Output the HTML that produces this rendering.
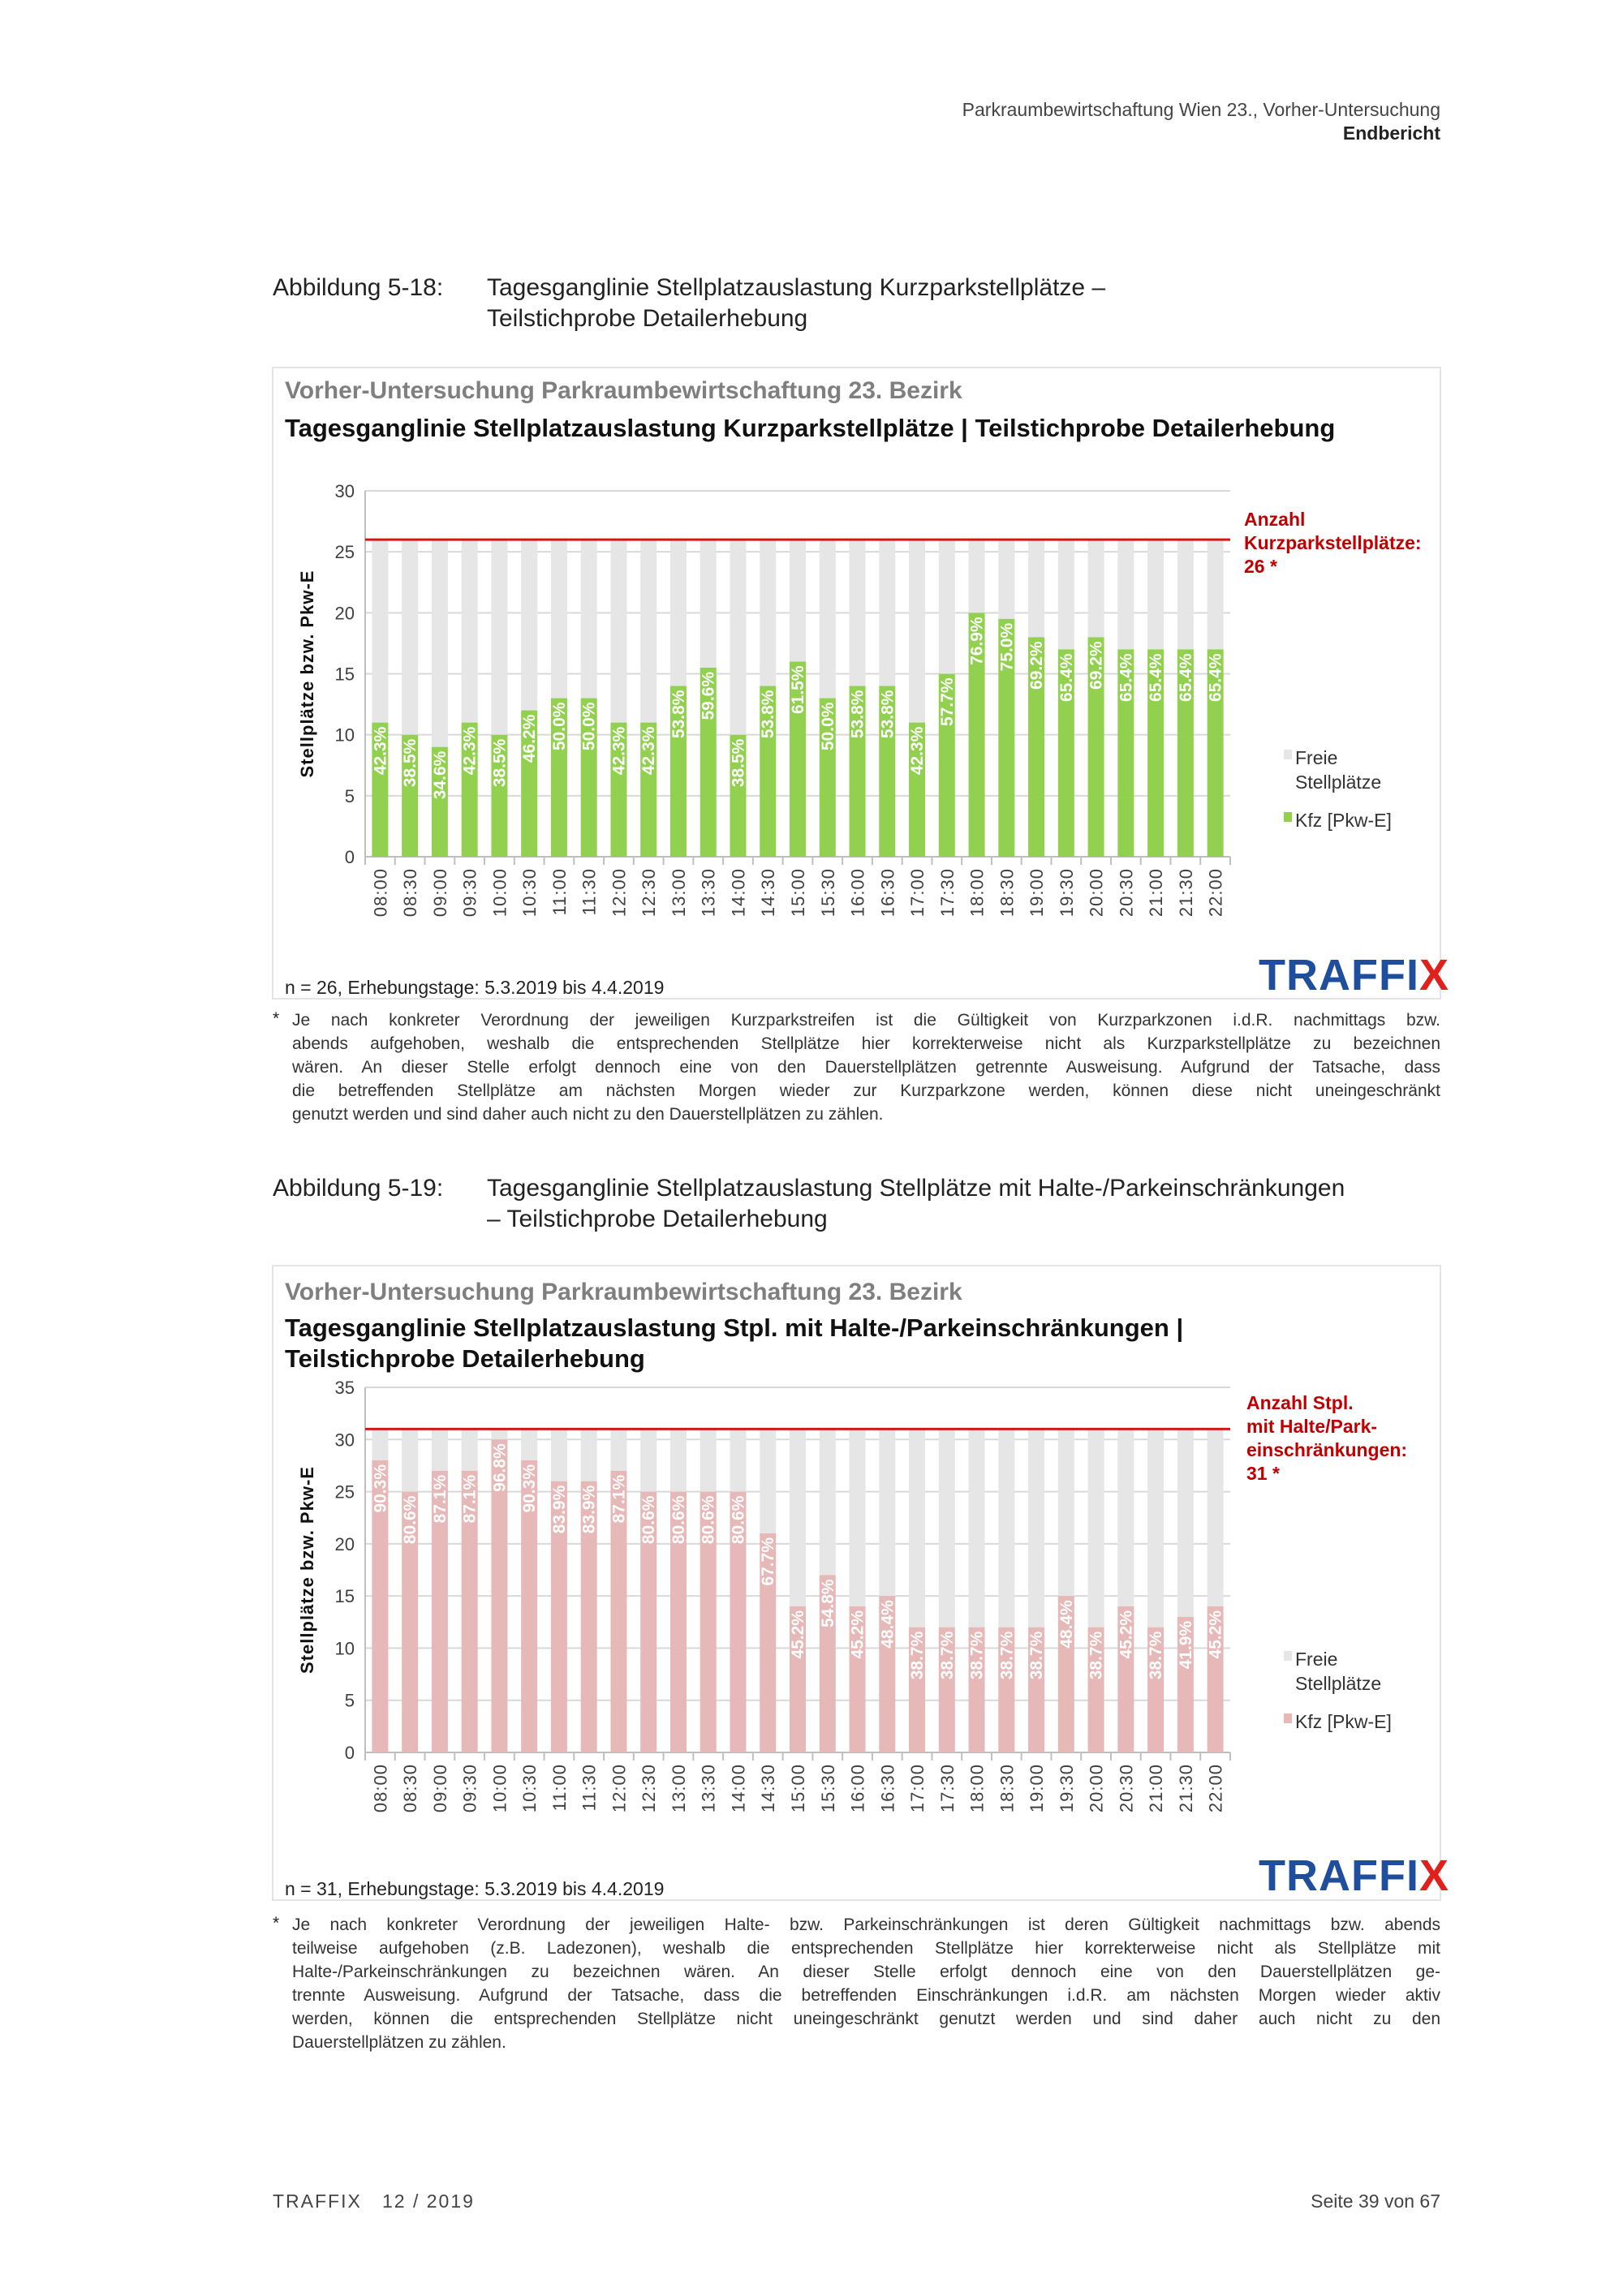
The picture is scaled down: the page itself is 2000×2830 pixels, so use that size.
<!DOCTYPE html>
<html><head><meta charset="utf-8">
<style>
body{margin:0;background:#fff;}
#page{position:relative;width:2000px;height:2830px;overflow:hidden;font-family:"Liberation Sans",sans-serif;color:#222;}
.t{position:absolute;white-space:nowrap;}
.fn{position:absolute;left:360px;width:1415px;font-size:21px;color:#333;}
.fn div{height:29px;line-height:29px;text-align:justify;text-align-last:justify;white-space:normal;}
.fn div.last{text-align-last:left;}
svg{position:absolute;left:0;top:0;}
</style></head><body>
<div id="page">
<div class="t" style="right:225px;top:122px;font-size:23px;color:#444;">Parkraumbewirtschaftung Wien 23., Vorher-Untersuchung</div>
<div class="t" style="right:225px;top:151px;font-size:23px;font-weight:bold;">Endbericht</div>

<div class="t" style="left:336px;top:336px;font-size:30px;line-height:38px;">Abbildung 5-18:</div>
<div class="t" style="left:600px;top:336px;font-size:30px;line-height:38px;">Tagesganglinie Stellplatzauslastung Kurzparkstellplätze –<br>Teilstichprobe Detailerhebung</div>

<div class="t" style="left:336px;top:1446px;font-size:30px;line-height:38px;">Abbildung 5-19:</div>
<div class="t" style="left:600px;top:1446px;font-size:30px;line-height:38px;">Tagesganglinie Stellplatzauslastung Stellplätze mit Halte-/Parkeinschränkungen<br>– Teilstichprobe Detailerhebung</div>

<svg id="svg" width="2000" height="2830"></svg>

<div class="t" style="left:336px;top:1244px;font-size:21px;">*</div>
<div class="fn" style="top:1243px;">
<div>Je nach konkreter Verordnung der jeweiligen Kurzparkstreifen ist die Gültigkeit von Kurzparkzonen i.d.R. nachmittags bzw.</div>
<div>abends aufgehoben, weshalb die entsprechenden Stellplätze hier korrekterweise nicht als Kurzparkstellplätze zu bezeichnen</div>
<div>wären. An dieser Stelle erfolgt dennoch eine von den Dauerstellplätzen getrennte Ausweisung. Aufgrund der Tatsache, dass</div>
<div>die betreffenden Stellplätze am nächsten Morgen wieder zur Kurzparkzone werden, können diese nicht uneingeschränkt</div>
<div class="last">genutzt werden und sind daher auch nicht zu den Dauerstellplätzen zu zählen.</div>
</div>
<div class="t" style="left:336px;top:2359px;font-size:21px;">*</div>
<div class="fn" style="top:2358px;">
<div>Je nach konkreter Verordnung der jeweiligen Halte- bzw. Parkeinschränkungen ist deren Gültigkeit nachmittags bzw. abends</div>
<div>teilweise aufgehoben (z.B. Ladezonen), weshalb die entsprechenden Stellplätze hier korrekterweise nicht als Stellplätze mit</div>
<div>Halte-/Parkeinschränkungen zu bezeichnen wären. An dieser Stelle erfolgt dennoch eine von den Dauerstellplätzen ge-</div>
<div>trennte Ausweisung. Aufgrund der Tatsache, dass die betreffenden Einschränkungen i.d.R. am nächsten Morgen wieder aktiv</div>
<div>werden, können die entsprechenden Stellplätze nicht uneingeschränkt genutzt werden und sind daher auch nicht zu den</div>
<div class="last">Dauerstellplätzen zu zählen.</div>
</div>

<div class="t" style="left:336px;top:2700px;font-size:23px;color:#444;letter-spacing:2px;">TRAFFIX&nbsp;&nbsp;&nbsp;12 / 2019</div>
<div class="t" style="right:225px;top:2700px;font-size:23px;color:#444;">Seite 39 von 67</div>
</div>
<script>
const categories = ["08:00","08:30","09:00","09:30","10:00","10:30","11:00","11:30","12:00","12:30","13:00","13:30","14:00","14:30","15:00","15:30","16:00","16:30","17:00","17:30","18:00","18:30","19:00","19:30","20:00","20:30","21:00","21:30","22:00"];
const kfz1 = [11,10,9,11,10,12,13,13,11,11,14,15.5,10,14,16,13,14,14,11,15,20,19.5,18,17,18,17,17,17,17];
const pct1 = ["42.3%","38.5%","34.6%","42.3%","38.5%","46.2%","50.0%","50.0%","42.3%","42.3%","53.8%","59.6%","38.5%","53.8%","61.5%","50.0%","53.8%","53.8%","42.3%","57.7%","76.9%","75.0%","69.2%","65.4%","69.2%","65.4%","65.4%","65.4%","65.4%"];
const capacity1 = 26;
const ticks1 = [0,5,10,15,20,25,30];
const kfz2 = [28,25,27,27,30,28,26,26,27,25,25,25,25,21,14,17,14,15,12,12,12,12,12,15,12,14,12,13,14];
const pct2 = ["90.3%","80.6%","87.1%","87.1%","96.8%","90.3%","83.9%","83.9%","87.1%","80.6%","80.6%","80.6%","80.6%","67.7%","45.2%","54.8%","45.2%","48.4%","38.7%","38.7%","38.7%","38.7%","38.7%","48.4%","38.7%","45.2%","38.7%","41.9%","45.2%"];
const capacity2 = 31;
const ticks2 = [0,5,10,15,20,25,30,35];

const NS="http://www.w3.org/2000/svg";
const svg=document.getElementById('svg');
function mk(tag,attrs,parent,text){const e=document.createElementNS(NS,tag);for(const k in attrs)e.setAttribute(k,attrs[k]);if(text!==undefined)e.textContent=text;(parent||svg).appendChild(e);return e;}

function chart(o){
  const g=mk('g',{});
  
  
  const box=mk('rect',{x:336,y:o.boxTop,width:1439,height:o.boxH,fill:'#fff',stroke:'#e4e4e4','stroke-width':2},g);
  
  
  const st=mk('text',{x:351,y:o.subY,'font-size':30,'font-weight':'bold',fill:'#7f7f7f'},g,'Vorher-Untersuchung Parkraumbewirtschaftung 23. Bezirk');
  
  
  o.titles.forEach((t,i)=>{
    const tt=mk('text',{x:351,y:o.titleY+i*38,'font-size':31,'font-weight':'bold',fill:'#111'},g,t);
    
    
  });
  const x0=450,x1=1516,y0=o.y0,ymax=o.ticks[o.ticks.length-1];
  const ys=v=>y0-(v/ymax)*(y0-o.yTop);
  const n=categories.length, slot=(x1-x0)/n, bw=20;
  o.ticks.forEach(t=>{
    const gl=mk('line',{x1:x0,x2:x1,y1:ys(t),y2:ys(t),stroke:t===0?'#bfbfbf':'#d9d9d9','stroke-width':2},g);
    
    
    const tl=mk('text',{x:437,y:ys(t)+8,'font-size':22,fill:'#404040','text-anchor':'end'},g,String(t));
    
    
  });
  mk('line',{x1:x0,x2:x0,y1:o.yTop,y2:y0,stroke:'#bfbfbf','stroke-width':2},g);
  for(let i=0;i<=n;i++){
    mk('line',{x1:x0+i*slot,x2:x0+i*slot,y1:y0,y2:y0+10,stroke:'#bfbfbf','stroke-width':2},g);
  }
  categories.forEach((c,i)=>{
    const cx=x0+(i+0.5)*slot;
    const fr=mk('rect',{x:cx-bw/2,y:ys(o.cap),width:bw,height:ys(o.vals[i])-ys(o.cap),fill:'#e6e6e6'},g);
    
    
    const b=mk('rect',{x:cx-bw/2,y:ys(o.vals[i]),width:bw,height:y0-ys(o.vals[i]),fill:o.color},g);
    
    
    const top=ys(o.vals[i])+5;
    const pl=mk('text',{x:cx+7,y:top,'font-size':21,'font-weight':'bold',fill:'#fff','text-anchor':'end',transform:`rotate(-90 ${cx+7} ${top})`},g,o.pct[i]);
    
    
    const ly=y0+14;
    const xl=mk('text',{x:cx+8,y:ly,'font-size':22,fill:'#404040','text-anchor':'end','letter-spacing':1,transform:`rotate(-90 ${cx+8} ${ly})`},g,c);
    
    
  });
  const rl=mk('line',{x1:x0,x2:x1,y1:ys(o.cap),y2:ys(o.cap),stroke:'#d01818','stroke-width':3},g);
  
  
  const ay=(o.yTop+y0)/2;
  const at=mk('text',{x:386,y:ay,'font-size':22,'font-weight':'bold',fill:'#111','text-anchor':'middle','letter-spacing':1,transform:`rotate(-90 386 ${ay})`},g,'Stellplätze bzw.  Pkw-E');
  
  
  o.capText.forEach((t,i)=>{
    const ct=mk('text',{x:o.capX,y:o.capY+i*29,'font-size':23,'font-weight':'bold',fill:'#c00000'},g,t);
    
    
  });
  const l1=mk('rect',{x:1582,y:o.legY-18,width:10,height:12,fill:'#e6e6e6'},g);
  
  
  mk('text',{x:1596,y:o.legY,'font-size':23,fill:'#333'},g,'Freie');
  mk('text',{x:1596,y:o.legY+30,'font-size':23,fill:'#333'},g,'Stellplätze');
  const l2=mk('rect',{x:1582,y:o.legY+59,width:10,height:12,fill:o.color},g);
  
  
  mk('text',{x:1596,y:o.legY+77,'font-size':23,fill:'#333'},g,'Kfz [Pkw-E]');
  const nt=mk('text',{x:351,y:o.nY,'font-size':23,fill:'#222'},g,o.nText);
  
  
  const lg=mk('text',{x:1551,y:o.logoY,'font-size':54,'font-weight':'bold',fill:'#1f4e9c','letter-spacing':1},g);
  
  
  lg.appendChild(document.createTextNode('TRAFFI'));
  mk('tspan',{fill:'#e0201b'},lg,'X');
}
chart({name:'chart-kurzpark',boxTop:453,boxH:778,subY:491,titles:['Tagesganglinie Stellplatzauslastung Kurzparkstellplätze | Teilstichprobe Detailerhebung'],titleY:538,y0:1056,yTop:605,ticks:ticks1,vals:kfz1,pct:pct1,cap:capacity1,color:'#92d050',capText:['Anzahl','Kurzparkstellplätze:','26 *'],capX:1533,capY:648,legY:942,nY:1225,nText:'n = 26, Erhebungstage: 5.3.2019 bis 4.4.2019',logoY:1220});
chart({name:'chart-halteparken',boxTop:1560,boxH:782,subY:1602,titles:['Tagesganglinie Stellplatzauslastung Stpl. mit Halte-/Parkeinschränkungen |','Teilstichprobe Detailerhebung'],titleY:1647,y0:2160,yTop:1710,ticks:ticks2,vals:kfz2,pct:pct2,cap:capacity2,color:'#e6b8b7',capText:['Anzahl Stpl.','mit Halte/Park-','einschränkungen:','31 *'],capX:1536,capY:1737,legY:2053,nY:2336,nText:'n = 31, Erhebungstage: 5.3.2019 bis 4.4.2019',logoY:2330});
</script>
</body></html>
